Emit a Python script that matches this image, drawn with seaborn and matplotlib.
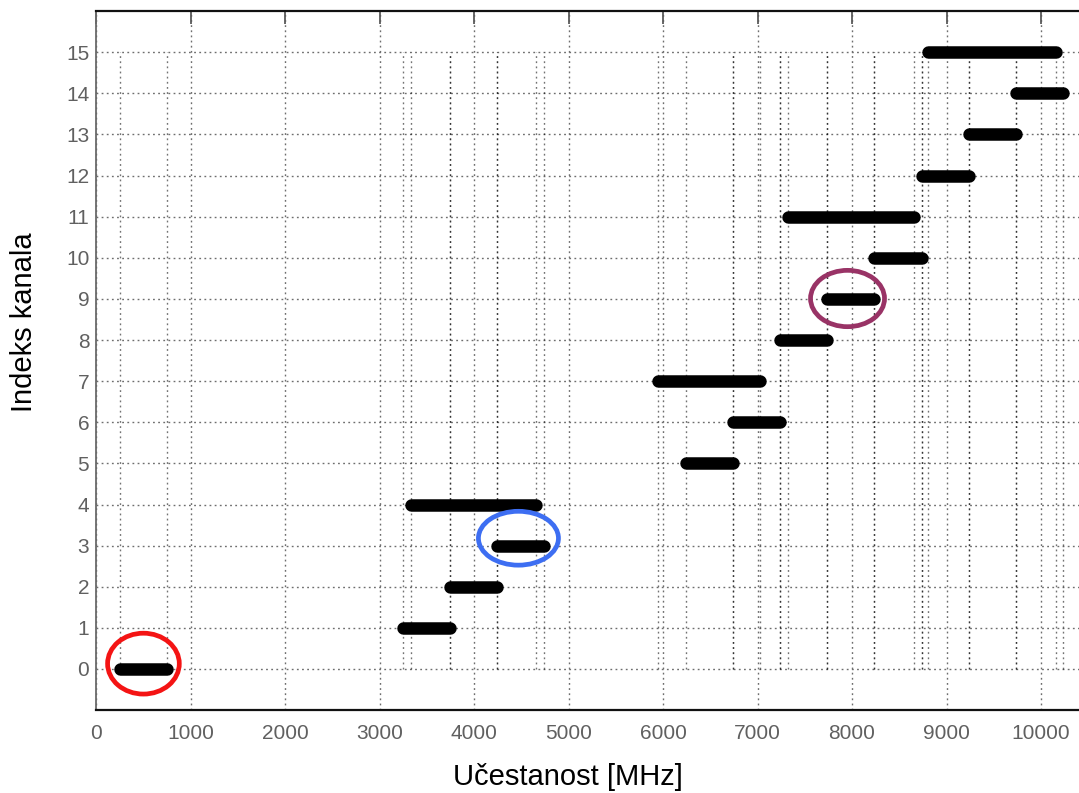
import matplotlib
matplotlib.use("Agg")
import matplotlib.pyplot as plt
from matplotlib import font_manager
from matplotlib.patches import Ellipse
import numpy as np
import pandas as pd
import seaborn as sns

# UWB channel bands (lower / upper edge, MHz)
channels = list(range(16))
f_low = [249.6, 3244.8, 3744.0, 4243.2, 3328.0, 6240.0, 6739.2, 5948.8,
         7238.4, 7737.6, 8236.8, 7321.6, 8736.0, 9235.2, 9734.4, 8807.5]
f_high = [748.8, 3744.0, 4243.2, 4742.4, 4659.2, 6739.2, 7238.4, 7030.4,
          7737.6, 8236.8, 8736.0, 8652.8, 9235.2, 9734.4, 10233.6, 10162.5]

x_ticks = [0, 1000, 2000, 3000, 4000, 5000, 6000, 7000, 8000, 9000, 10000]
y_ticks = channels
y_ticklabels = [str(c) for c in channels]

# highlighted channels (centre, width, height, colour)
mark_x = [500, 4469, 7952]
mark_y = [0.13, 3.18, 9.01]
mark_w = [759, 847, 783]
mark_h = [1.48, 1.31, 1.37]
mark_c = ["#f41414", "#3d6ef2", "#993366"]

sns.set_theme(style="white")
installed = {f.name for f in font_manager.fontManager.ttflist}
narrow = "Liberation Sans Narrow" in installed
tick_font = "Liberation Sans Narrow" if narrow else "Liberation Sans"
tick_size = 16.3 if narrow else 15.0
plt.rcParams["font.family"] = ["Liberation Sans", "DejaVu Sans"]

bands = pd.DataFrame({
    "freq": f_low + f_high,
    "kanal": channels + channels,
})

fig = plt.figure(figsize=(10.79, 7.93), dpi=100)
ax = fig.add_axes([96.2 / 1079, (793 - 710.1) / 793, 1039.3 / 1079, 699.0 / 793])

dots = (0, (1.3, 2.4))

# dotted guide lines at every band edge
for lo, hi in zip(f_low, f_high):
    for edge in (lo, hi):
        ax.plot([edge, edge], [0, 15], color="black", alpha=0.55,
                lw=1.0, ls=dots, zorder=1)

ax.set_xlim(0, 11000)
ax.set_ylim(-1, 16)
ax.set_xticks(x_ticks)
ax.set_yticks(y_ticks)
ax.set_yticklabels(y_ticklabels)
ax.grid(True, color="#6e6e6e", lw=1.0, ls=dots, zorder=0)

sns.lineplot(data=bands, x="freq", y="kanal", units="kanal", estimator=None,
             sort=False, color="black", lw=9.0, solid_capstyle="round",
             legend=False, ax=ax, zorder=3)

for cx, cy, w, h, c in zip(mark_x, mark_y, mark_w, mark_h, mark_c):
    ax.add_patch(Ellipse((cx, cy), w, h, fill=False, edgecolor=c, lw=3.4, zorder=4))

ax.tick_params(axis="both", which="both", direction="in", top=True, right=False,
               colors="#5a5a5a", width=1.3, labelcolor="#606060")
ax.tick_params(axis="x", length=9, pad=10, labelsize=tick_size)
ax.tick_params(axis="y", length=7, pad=5, labelsize=tick_size)
for lab in ax.get_xticklabels() + ax.get_yticklabels():
    lab.set_fontfamily(tick_font)

for side in ("top", "bottom"):
    ax.spines[side].set_color("#111111")
    ax.spines[side].set_linewidth(1.6)
ax.spines["left"].set_color("#6a6a6a")
ax.spines["left"].set_linewidth(1.3)
ax.spines["right"].set_visible(False)

ax.set_xlabel("Učestanost [MHz]", fontsize=21, color="black")
ax.set_ylabel("Indeks kanala", fontsize=21, color="black")
ax.xaxis.set_label_coords((567.7 - 96.2) / 1039.3, (710.1 - 777) / 699.0)
ax.xaxis.label.set_va("center")
ax.yaxis.set_label_coords((24 - 96.2) / 1039.3, (710.1 - 322.5) / 699.0)
ax.yaxis.label.set_va("center")

fig.savefig("out.png", dpi=100)
